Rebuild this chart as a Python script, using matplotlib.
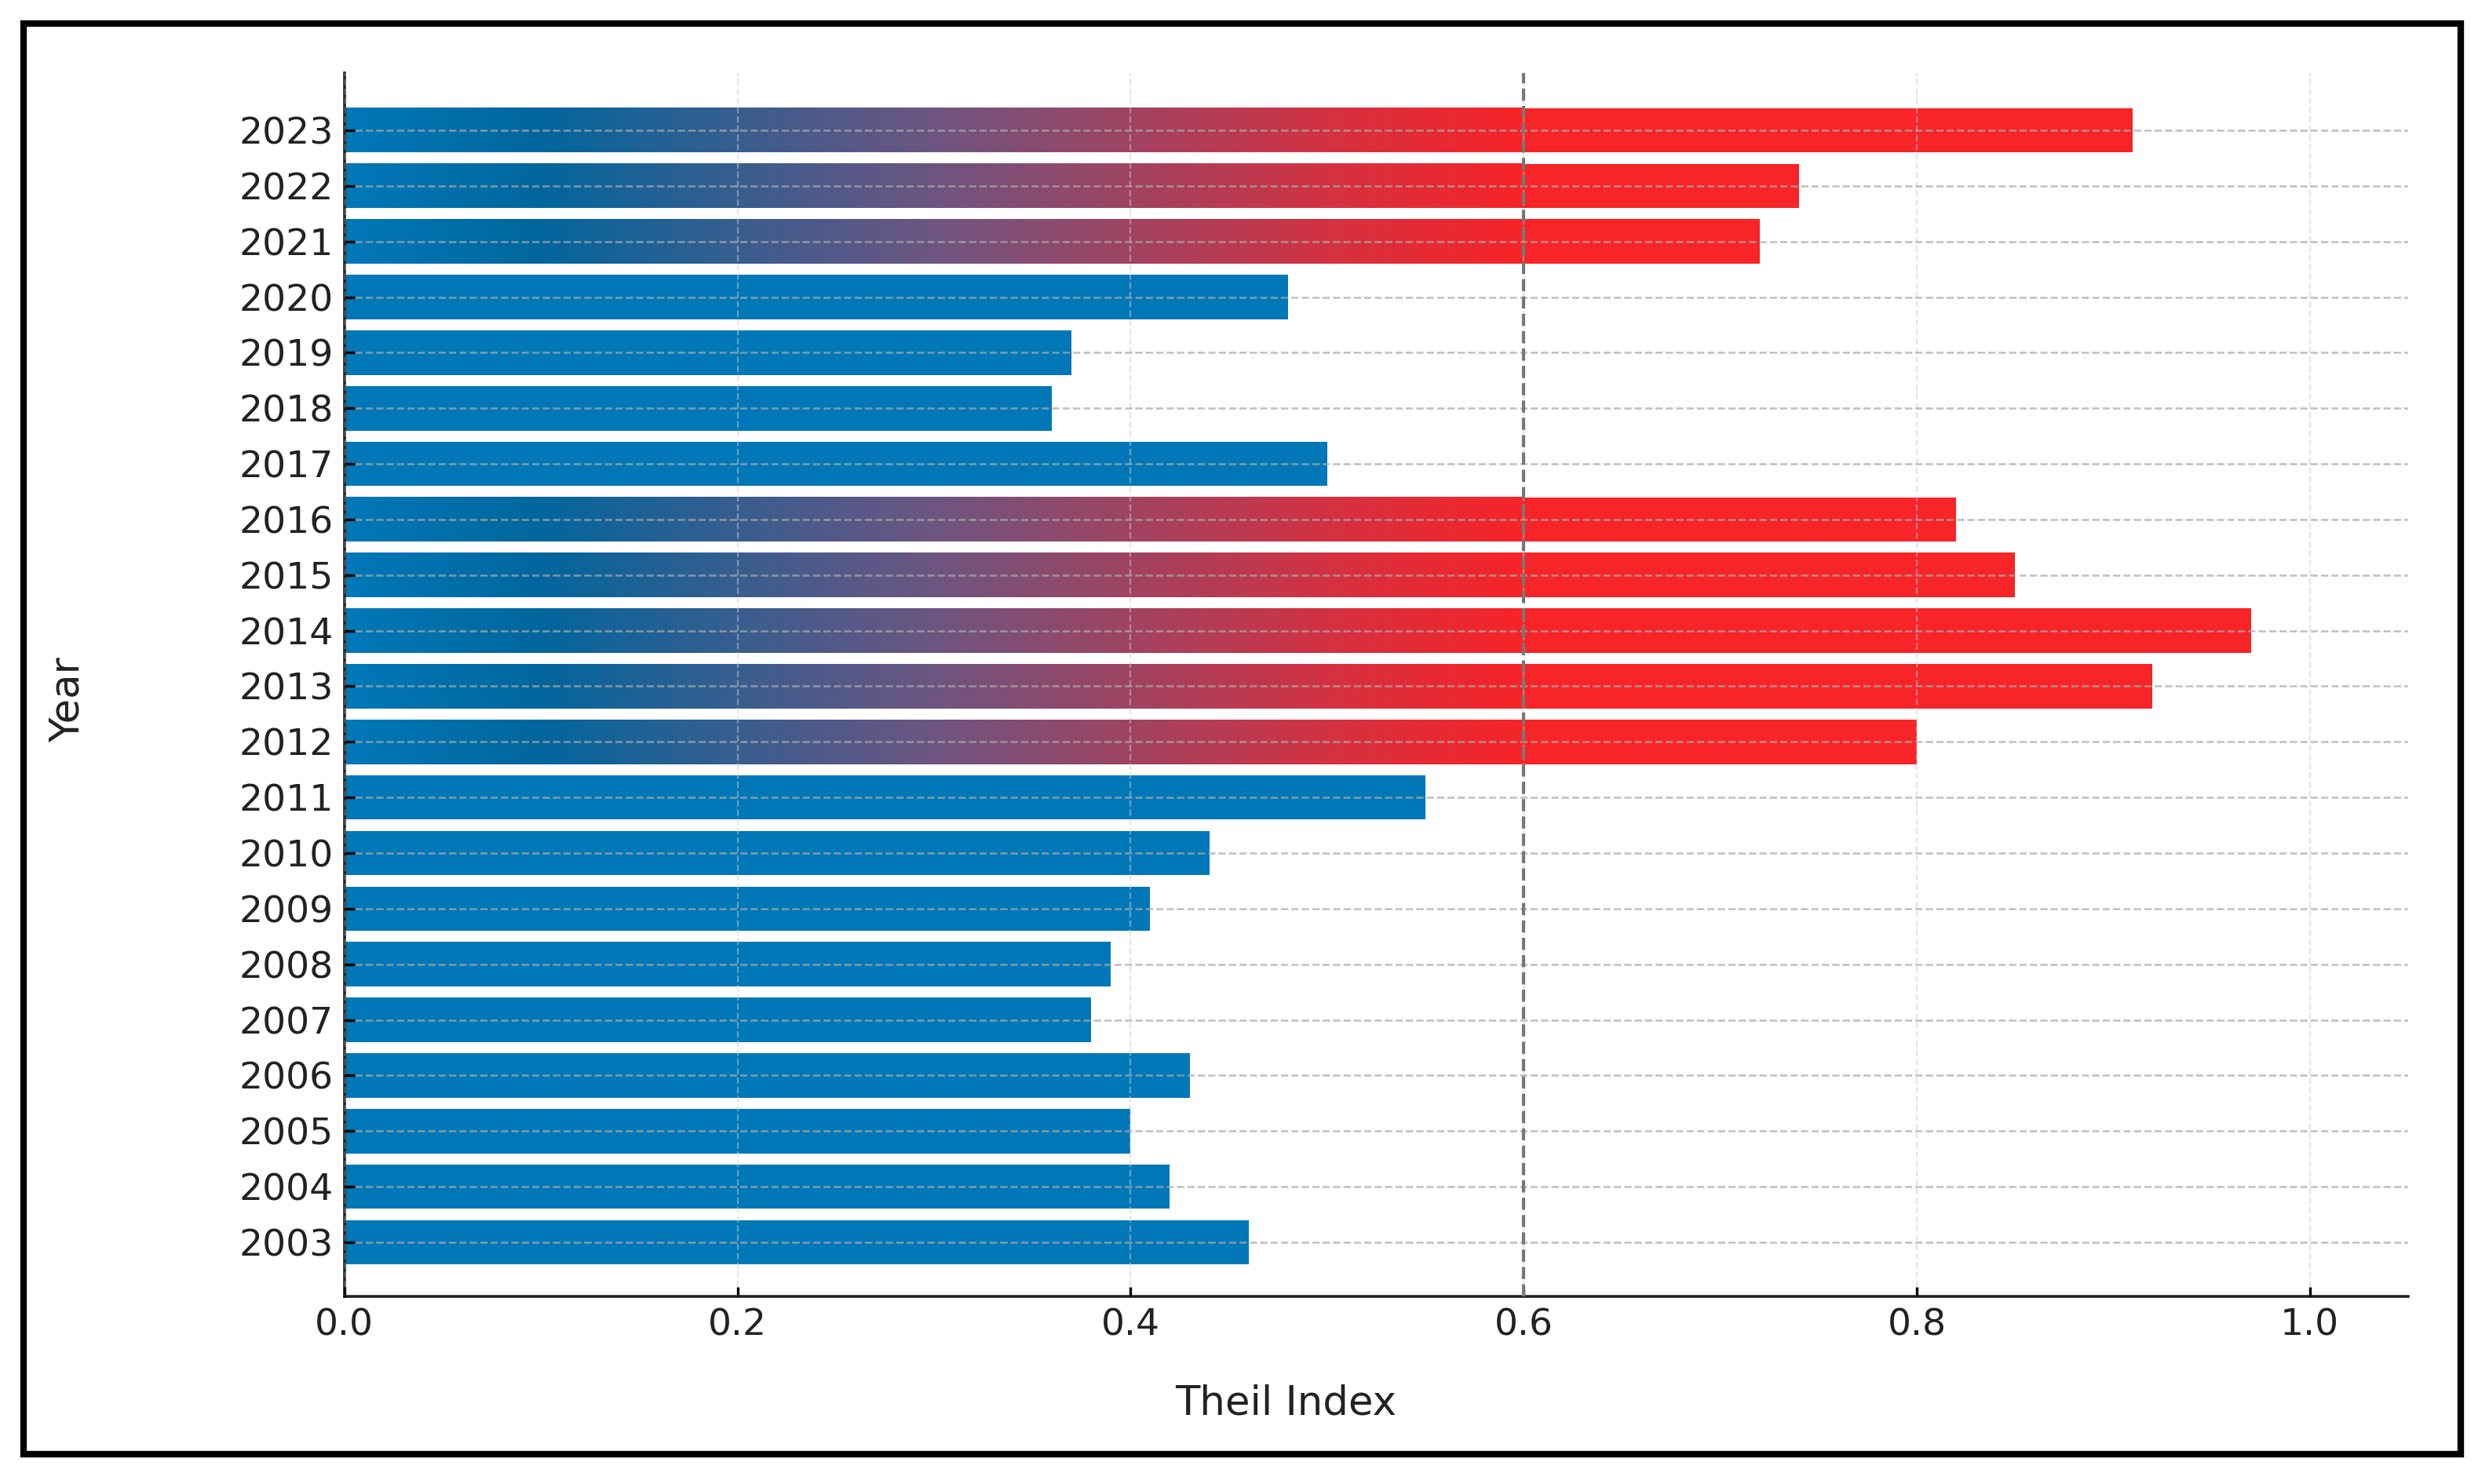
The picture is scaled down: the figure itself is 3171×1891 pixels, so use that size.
import matplotlib
matplotlib.use('Agg')
import matplotlib.pyplot as plt
import numpy as np
from matplotlib.colors import LinearSegmentedColormap
from matplotlib.patches import Rectangle

plt.rcParams['font.family'] = ['DejaVu Sans']

# 数据
years = [2003, 2004, 2005, 2006, 2007, 2008, 2009, 2010, 2011, 2012, 2013,
         2014, 2015, 2016, 2017, 2018, 2019, 2020, 2021, 2022, 2023]
theil = [0.46, 0.42, 0.40, 0.43, 0.38, 0.39, 0.41, 0.44, 0.55, 0.80, 0.92,
         0.97, 0.85, 0.82, 0.50, 0.36, 0.37, 0.48, 0.72, 0.74, 0.91]
threshold = 0.6
xticks = [0.0, 0.2, 0.4, 0.6, 0.8, 1.0]

blue = '#0077b6'
red = '#f72428'
grad = LinearSegmentedColormap.from_list('br', [(0.0, '#0078b8'), (0.16, '#00679e'),
                                                (0.5, '#6e5581'), (0.85, '#d8303f'),
                                                (1.0, red)])

fig = plt.figure(figsize=(3171 / 200, 1891 / 200), dpi=200)
ax = fig.add_axes([0.1384, 0.1262, 0.8291, 0.8246])

pos = np.arange(len(years))
h = 0.8
grad_img = np.linspace(0, 1, 256).reshape(1, -1)
for i, v in enumerate(theil):
    if v > threshold:
        # 超过阈值: 0~阈值渐变, 阈值以上纯红
        ax.imshow(grad_img, cmap=grad, aspect='auto', zorder=2,
                  extent=[0, threshold, pos[i] - h / 2, pos[i] + h / 2])
        ax.barh(pos[i], v - threshold, left=threshold, height=h, color=red, zorder=2)
    else:
        ax.barh(pos[i], v, height=h, color=blue, zorder=2)

ax.axvline(threshold, color='#777777', linestyle='--', linewidth=1.5, zorder=4)

ax.set_xlim(0, 1.05)
ax.set_ylim(-0.98, len(years) - 1 + 1.03)
ax.set_yticks(pos)
ax.set_yticklabels([str(y) for y in years])
ax.set_xticks(xticks)
ax.set_xticklabels(['%.1f' % t for t in xticks])

ax.grid(axis='y', linestyle='--', linewidth=0.9, color='#aaaaaa', alpha=0.75, zorder=3)
ax.grid(axis='x', linestyle='--', linewidth=0.8, color='#cccccc', alpha=0.5, zorder=3)
ax.set_axisbelow(False)

ax.tick_params(axis='both', direction='in', length=4.5, width=1.2, labelsize=17,
               labelcolor='#222222', pad=5)
for s in ['top', 'right']:
    ax.spines[s].set_visible(False)
for s in ['left', 'bottom']:
    ax.spines[s].set_linewidth(1.3)
    ax.spines[s].set_color('#222222')

ax.set_xlabel('Theil Index', fontsize=18.5, color='#222222')
ax.xaxis.set_label_coords(0.456, -0.087)
ax.xaxis.label.set_va('center')
ax.set_ylabel('Year', fontsize=18.5, color='#222222')
ax.yaxis.set_label_coords(-0.134, 0.488)
ax.yaxis.label.set_va('center')

# 外边框
fig.patches.append(Rectangle((0.0096, 0.0203), 0.9789, 0.9637, transform=fig.transFigure,
                             fill=False, edgecolor='black', linewidth=3))

fig.savefig('out.png', dpi=200)
